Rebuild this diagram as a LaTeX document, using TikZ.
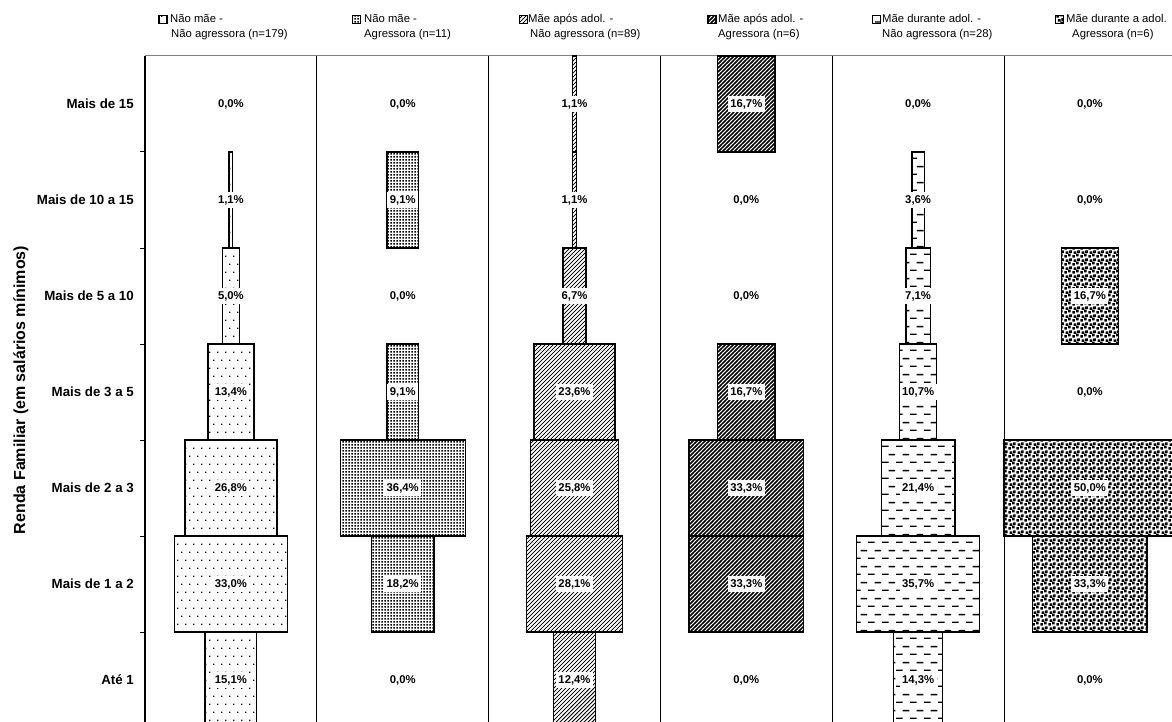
\documentclass[tikz,border=0pt]{standalone}
\usepackage{fontspec}
\setmainfont{Liberation Sans}
\usetikzlibrary{positioning, calc, patterns}

% fill patterns of the six groups
\pgfdeclarepatternformonly{sparsedots}{\pgfqpoint{-1pt}{-1pt}}{\pgfqpoint{9pt}{17pt}}{\pgfqpoint{8pt}{16pt}}{
  \pgfpathrectangle{\pgfqpoint{1pt}{1pt}}{\pgfqpoint{1.4pt}{1.4pt}}
  \pgfpathrectangle{\pgfqpoint{5pt}{9pt}}{\pgfqpoint{1.4pt}{1.4pt}}
  \pgfusepath{fill}
}
\pgfdeclarepatternformonly{densedots}{\pgfqpoint{0pt}{0pt}}{\pgfqpoint{3pt}{3pt}}{\pgfqpoint{3pt}{3pt}}{
  \pgfpathrectangle{\pgfqpoint{0.5pt}{0.5pt}}{\pgfqpoint{1.9pt}{1.9pt}}
  \pgfusepath{fill}
}
\pgfdeclarepatternformonly{thinlines}{\pgfqpoint{-2pt}{-2pt}}{\pgfqpoint{6pt}{6pt}}{\pgfqpoint{4pt}{4pt}}{
  \pgfsetlinewidth{0.7pt}
  \pgfpathmoveto{\pgfqpoint{-2pt}{-2pt}}
  \pgfpathlineto{\pgfqpoint{6pt}{6pt}}
  \pgfusepath{stroke}
}
\pgfdeclarepatternformonly{thicklines}{\pgfqpoint{-2pt}{-2pt}}{\pgfqpoint{6pt}{6pt}}{\pgfqpoint{4pt}{4pt}}{
  \pgfsetlinewidth{1.3pt}
  \pgfpathmoveto{\pgfqpoint{-2pt}{-2pt}}
  \pgfpathlineto{\pgfqpoint{6pt}{6pt}}
  \pgfusepath{stroke}
}
\pgfdeclarepatternformonly{hdashes}{\pgfqpoint{0pt}{0pt}}{\pgfqpoint{14pt}{16pt}}{\pgfqpoint{14pt}{16pt}}{
  \pgfpathrectangle{\pgfqpoint{0pt}{3.3pt}}{\pgfqpoint{7pt}{1.4pt}}
  \pgfpathrectangle{\pgfqpoint{7pt}{11.3pt}}{\pgfqpoint{7pt}{1.4pt}}
  \pgfusepath{fill}
}
\pgfdeclarepatternformonly{confetti}{\pgfqpoint{0pt}{0pt}}{\pgfqpoint{8pt}{8pt}}{\pgfqpoint{8pt}{8pt}}{
  \pgfpathrectangle{\pgfqpoint{0.3pt}{0.3pt}}{\pgfqpoint{2.9pt}{2.9pt}}
  \pgfpathrectangle{\pgfqpoint{4.5pt}{1.7pt}}{\pgfqpoint{2.9pt}{2.9pt}}
  \pgfpathrectangle{\pgfqpoint{1.9pt}{4.5pt}}{\pgfqpoint{2.9pt}{2.9pt}}
  \pgfpathrectangle{\pgfqpoint{5.7pt}{5.5pt}}{\pgfqpoint{2.9pt}{2.9pt}}
  \pgfusepath{fill}
}
\pgfkeys{/pgf/number format/assume math mode=true}

\begin{document}
\begin{tikzpicture}[x=1pt, y=-1pt,
    bar/.style = {draw, line width=1.3pt},
    sepline/.style = {line width=1pt},
    pct/.style = {fill=white, inner xsep=2.5pt, inner ysep=3pt, font=\fontsize{11.3}{13}\selectfont\bfseries},
    rowlabel/.style = {anchor=east, inner sep=0pt, font=\fontsize{13.3}{15}\selectfont\bfseries},
    legbox/.style = {draw, line width=1.1pt, minimum size=8pt, inner sep=0pt},
    legtext/.style = {anchor=base west, align=left, inner sep=0pt, font=\fontsize{11.3}{15}\selectfont},
  ]
  \useasboundingbox (0,0) rectangle (1172,722);

  % frame of the panels
  \draw[gray, line width=1pt] (145,56) -- (1172,56);
  \foreach \c in {1,...,5}
    \draw[sepline] ({145+\c*171.8},56) -- ({145+\c*171.8},722);
  \draw[line width=1.2pt] (145,56) -- (145,722);
  \foreach \r in {1,...,6}
    \draw[line width=1pt] (140,56+\r*96) -- (145,56+\r*96);

  % row labels
  \foreach \t [count=\r] in {Mais de 15, Mais de 10 a 15, Mais de 5 a 10, Mais de 3 a 5, Mais de 2 a 3, Mais de 1 a 2, Até 1}
    \node[rowlabel] (lab\r) at (134,8+\r*96) {\t};

  \node[rotate=90, inner sep=0pt, font=\fontsize{16}{18}\selectfont\bfseries] (title) at (21,390) {Renda Familiar (em salários mínimos)};

  % bars and percentages
  \foreach \c/\pat/\vals in {
      1/sparsedots/{0.0,1.1,5.0,13.4,26.8,33.0,15.1},
      2/densedots/{0.0,9.1,0.0,9.1,36.4,18.2,0.0},
      3/thinlines/{1.1,1.1,6.7,23.6,25.8,28.1,12.4},
      4/thicklines/{16.7,0.0,0.0,16.7,33.3,33.3,0.0},
      5/hdashes/{0.0,3.6,7.1,10.7,21.4,35.7,14.3},
      6/confetti/{0.0,0.0,16.7,0.0,50.0,33.3,0.0}}
  {
    \foreach \v [count=\r] in \vals {
      \pgfmathsetmacro\xc{145+(\c-0.5)*171.8}
      \pgfmathsetmacro\hw{\v/100*171.8}
      \pgfmathsetmacro\yt{56+(\r-1)*96}
      \ifdim \v pt>0pt
        \draw[bar, pattern=\pat] (\xc-\hw,\yt) rectangle (\xc+\hw,\yt+96);
      \fi
      \node[pct] (p\c-\r) at (\xc,\yt+48) {\pgfmathprintnumber[fixed, fixed zerofill, precision=1, use comma]{\v}\%};
    }
  }

  % legend
  \node[legbox, pattern=sparsedots] (lg1) at (163,19.5) {};
  \node[legtext] (lt1) at (170,38) {Não mãe -\\\hspace{1pt}Não agressora (n=179)};
  \node[legbox, pattern=densedots] (lg2) at (356.5,19.5) {};
  \node[legtext] (lt2) at (364,38) {Não mãe -\\Agressora (n=11)};
  \node[legbox, pattern=thinlines] (lg3) at (523.5,19.5) {};
  \node[legtext] (lt3) at (528,38) {Mãe após adol. -\\\hspace{2pt}Não agressora (n=89)};
  \node[legbox, pattern=thicklines] (lg4) at (712,19.5) {};
  \node[legtext] (lt4) at (718,38) {Mãe após adol. -\\Agressora (n=6)};
  \node[legbox, pattern=hdashes] (lg5) at (876.5,19.5) {};
  \node[legtext] (lt5) at (882,38) {Mãe durante adol. -\\Não agressora (n=28)};
  \node[legbox, pattern=confetti] (lg6) at (1059.5,19.5) {};
  \node[legtext] (lt6) at (1066,38) {Mãe durante a adol.\\\hspace{6pt}Agressora (n=6)};
\end{tikzpicture}
\end{document}
